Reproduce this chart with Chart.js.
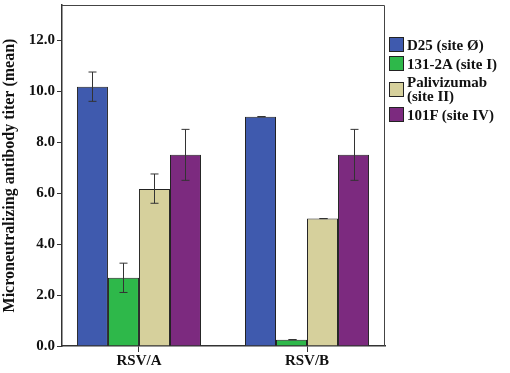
<!DOCTYPE html>
<html>
<head>
<meta charset="utf-8">
<script src="https://cdn.jsdelivr.net/npm/chart.js@4/dist/chart.umd.min.js"></script>
<style>
  html, body { margin: 0; padding: 0; background: #fff; }
  #wrap { position: relative; width: 510px; height: 373px; }
  #legend { position: absolute; left: 389px; top: 37px; font: bold 15px "Liberation Serif", "Times New Roman", serif; color: #111; }
  .item { display: flex; align-items: center; margin-bottom: 4px; line-height: 14px; }
  .box { width: 13px; height: 13px; border: 1px solid #222; margin-right: 3px; flex: none; }
</style>
</head>
<body>
<div id="wrap">
  <canvas id="chart" width="510" height="373"></canvas>
  <div id="legend"></div>
</div>
<script>
// Werte
const categories = ["RSV/A", "RSV/B"];
const seriesNames = ["D25 (site Ø)", "131-2A (site I)", "Palivizumab\n(site II)", "101F (site IV)"];
const colors = ["#3F5AAE", "#2EB84A", "#D6D09C", "#7C2A7F"];

const d25 = [10.17, 9.0];
const a131 = [2.68, 0.25];
const palivizumab = [6.16, 5.0];
const f101 = [7.5, 7.5];

// Fehlerbalken (untere / obere Grenze)
const d25Err = [[9.6, 10.75], [9.0, 9.0]];
const a131Err = [[2.1, 3.25], [0.25, 0.25]];
const palivizumabErr = [[5.6, 6.75], [5.0, 5.0]];
const f101Err = [[6.5, 8.5], [6.5, 8.5]];

const yTicks = [0, 2, 4, 6, 8, 10, 12];

const values = [d25, a131, palivizumab, f101];
const errors = [d25Err, a131Err, palivizumabErr, f101Err];

const serif = '"Liberation Serif", "Times New Roman", serif';

const errorBars = {
  id: "errorBars",
  afterDatasetsDraw(chart) {
    const ctx = chart.ctx;
    const y = chart.scales.y;
    ctx.save();
    ctx.strokeStyle = "#333";
    ctx.lineWidth = 1;
    chart.data.datasets.forEach((ds, i) => {
      const meta = chart.getDatasetMeta(i);
      meta.data.forEach((bar, j) => {
        const [lo, hi] = ds.err[j];
        const x = Math.round(bar.x) + 0.5;
        const yl = y.getPixelForValue(lo);
        const yh = y.getPixelForValue(hi);
        ctx.beginPath();
        ctx.moveTo(x, yl); ctx.lineTo(x, yh);
        ctx.moveTo(x - 4, yl); ctx.lineTo(x + 4, yl);
        ctx.moveTo(x - 4, yh); ctx.lineTo(x + 4, yh);
        ctx.stroke();
      });
    });
    ctx.restore();
  }
};

const frame = {
  id: "frame",
  afterDraw(chart) {
    const a = chart.chartArea;
    const ctx = chart.ctx;
    ctx.save();
    ctx.strokeStyle = "#444";
    ctx.lineWidth = 1;
    ctx.beginPath();
    ctx.moveTo(a.left, a.top + 0.5);
    ctx.lineTo(a.right - 0.5, a.top + 0.5);
    ctx.lineTo(a.right - 0.5, a.bottom);
    ctx.stroke();
    ctx.restore();
  }
};

new Chart(document.getElementById("chart"), {
  type: "bar",
  data: {
    datasets: values.map((v, i) => ({
      label: seriesNames[i],
      data: v.map((y, j) => ({ x: j, y: y })),
      err: errors[i],
      backgroundColor: colors[i],
      borderColor: "#222",
      borderWidth: 1,
      categoryPercentage: 0.738,
      barPercentage: 1
    }))
  },
  options: {
    responsive: false,
    animation: false,
    layout: { padding: { top: 5, right: 125, left: 0, bottom: 0 } },
    plugins: { legend: { display: false }, tooltip: { enabled: false } },
    scales: {
      x: {
        type: "linear",
        offset: false,
        min: -0.458,
        max: 1.464,
        afterBuildTicks(s) { s.ticks = categories.map((c, j) => ({ value: j })); },
        grid: { offset: false, drawOnChartArea: false, drawTicks: true, tickLength: 6, color: "#333" },
        border: { color: "#333", width: 1.5 },
        ticks: {
          color: "#111",
          font: { family: serif, size: 15, weight: "bold" },
          padding: 0,
          callback: v => categories[v]
        },
        afterFit(s) { s.height = 27; s.paddingLeft = 0; s.paddingRight = 0; }
      },
      y: {
        min: 0,
        max: 13.38,
        afterBuildTicks(s) { s.ticks = yTicks.map(v => ({ value: v })); },
        grid: { drawOnChartArea: false, drawTicks: true, tickLength: 5, color: "#333" },
        border: { color: "#333", width: 1.5 },
        ticks: {
          color: "#111",
          font: { family: serif, size: 15, weight: "bold" },
          padding: 2,
          callback: v => v.toFixed(1)
        },
        title: {
          display: true,
          text: "Microneutralizing antibody titer (mean)",
          color: "#111",
          font: { family: serif, size: 16, weight: "bold" },
          padding: { top: 0, bottom: 0 }
        },
        afterFit(s) { s.width = 62; s.paddingTop = 0; s.paddingBottom = 0; }
      }
    }
  },
  plugins: [errorBars, frame]
});

const legend = document.getElementById("legend");
seriesNames.forEach((name, i) => {
  const item = document.createElement("div");
  item.className = "item";
  const box = document.createElement("span");
  box.className = "box";
  box.style.background = colors[i];
  const txt = document.createElement("span");
  txt.innerHTML = name.replace("\n", "<br>");
  item.appendChild(box);
  item.appendChild(txt);
  legend.appendChild(item);
});
</script>
</body>
</html>
